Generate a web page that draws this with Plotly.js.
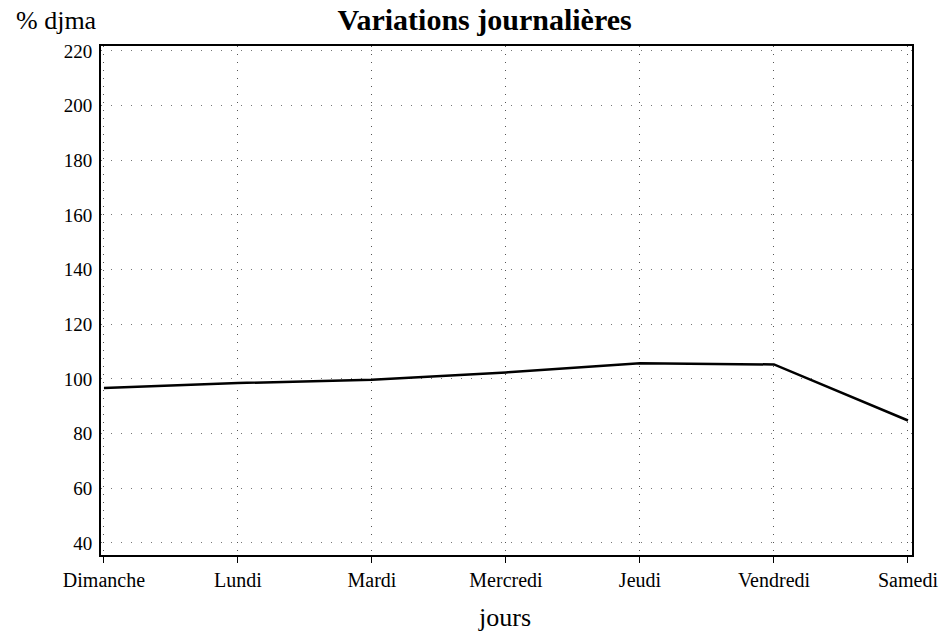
<!DOCTYPE html>
<html>
<head>
<meta charset="utf-8">
<script src="https://cdn.plot.ly/plotly-3.0.1.min.js"></script>
<style>
  html, body { margin: 0; padding: 0; background: #fff; }
  #chart { width: 941px; height: 633px; }
</style>
</head>
<body>
<div id="chart"></div>
<script>
const jours = ['Dimanche', 'Lundi', 'Mardi', 'Mercredi', 'Jeudi', 'Vendredi', 'Samedi'];
const djma = [96.7, 98.5, 99.7, 102.4, 105.7, 105.3, 84.8];
const yTicks = [40, 60, 80, 100, 120, 140, 160, 180, 200, 220];

const serif = 'Liberation Serif, Times New Roman, serif';

const trace = {
    x: jours,
    y: djma,
    mode: 'lines',
    type: 'scatter',
    line: { color: '#000', width: 2.5 },
    hoverinfo: 'skip'
};

const layout = {
    width: 941,
    height: 633,
    margin: { l: 101, r: 29, t: 46, b: 78 },
    paper_bgcolor: '#fff',
    plot_bgcolor: '#fff',
    showlegend: false,
    font: { family: serif, color: '#000', size: 19 },
    title: {
        text: '<b>Variations journalières</b>',
        font: { family: serif, size: 30, color: '#000' },
        x: 0.473,
        xanchor: 'center',
        xref: 'paper',
        yref: 'container',
        y: 0.969,
        yanchor: 'middle'
    },
    xaxis: {
        type: 'category',
        range: [-0.022, 6.03],
        showline: true,
        linecolor: '#000',
        linewidth: 2,
        mirror: true,
        ticks: 'outside',
        ticklen: 6,
        tickcolor: '#000',
        tickfont: { family: serif, size: 20 },
        showgrid: true,
        gridcolor: '#555',
        gridwidth: 1,
        griddash: '1px,7px',
        zeroline: false
    },
    yaxis: {
        range: [35.6, 221.8],
        tickvals: yTicks,
        showline: true,
        linecolor: '#000',
        linewidth: 2,
        mirror: true,
        ticks: '',
        ticklabelstandoff: 3,
        tickfont: { family: serif, size: 19 },
        showgrid: true,
        gridcolor: '#777',
        gridwidth: 1,
        griddash: '1px,9px',
        zeroline: false
    },
    annotations: [{
        text: '% djma',
        xref: 'paper',
        yref: 'paper',
        x: -0.107,
        y: 1.0177,
        xanchor: 'left',
        yanchor: 'bottom',
        showarrow: false,
        font: { family: serif, size: 26, color: '#000' }
    }, {
        text: 'jours',
        xref: 'paper',
        yref: 'paper',
        x: 0.498,
        y: -0.122,
        xanchor: 'center',
        yanchor: 'middle',
        showarrow: false,
        font: { family: serif, size: 26, color: '#000' }
    }]
};

Plotly.newPlot('chart', [trace], layout, { displayModeBar: false, staticPlot: true });
</script>
</body>
</html>
